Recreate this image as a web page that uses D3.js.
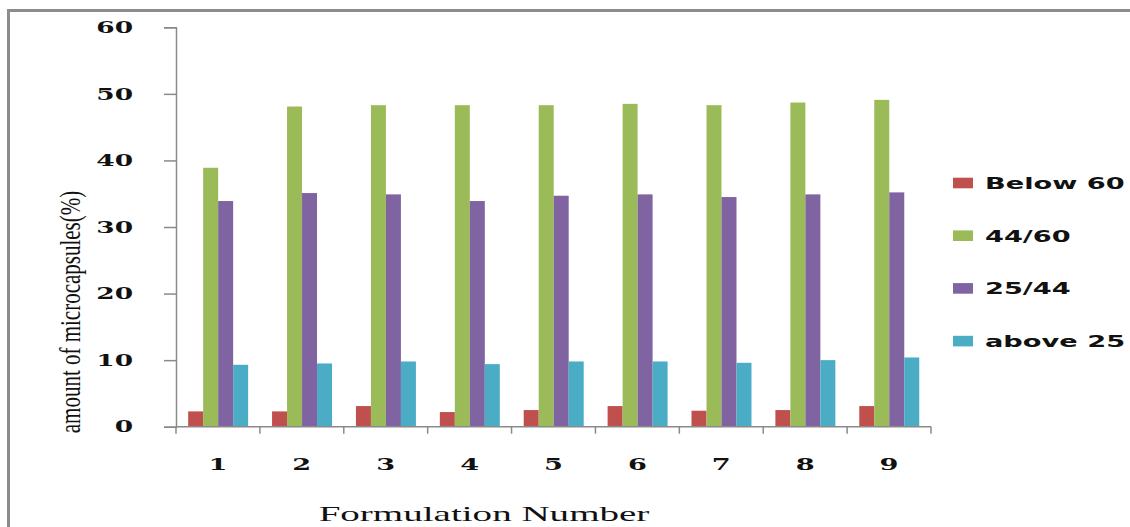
<!DOCTYPE html>
<html>
<head>
<meta charset="utf-8">
<script src="https://cdn.jsdelivr.net/npm/d3@7"></script>
<style>
  html, body { margin: 0; padding: 0; background: #fff; }
  svg { display: block; }
</style>
</head>
<body>
<svg id="chart" width="1130" height="527"></svg>
<script>
// Formulations on the x axis
const formulations = ["1", "2", "3", "4", "5", "6", "7", "8", "9"];
// Size fractions (legend order)
const seriesNames = ["Below 60", "44/60", "25/44", "above 25"];
const seriesColors = ["#C0504D", "#9BBB59", "#8064A2", "#4BACC6"];
// Amount of microcapsules (%) in each size fraction
const below60 = [2.3, 2.3, 3.1, 2.2, 2.5, 3.1, 2.4, 2.5, 3.1];
const frac4460 = [38.9, 48.1, 48.3, 48.3, 48.3, 48.5, 48.3, 48.7, 49.1];
const frac2544 = [33.9, 35.1, 34.9, 33.9, 34.7, 34.9, 34.5, 34.9, 35.2];
const above25 = [9.3, 9.5, 9.8, 9.4, 9.8, 9.8, 9.6, 10.0, 10.4];
const yTicks = [0, 10, 20, 30, 40, 50, 60];

const seriesValues = [below60, frac4460, frac2544, above25];

const svg = d3.select("#chart");

// chart-area frame
svg.append("rect")
  .attr("x", 8.5).attr("y", 10.5)
  .attr("width", 1140).attr("height", 540)
  .attr("fill", "none")
  .attr("stroke", "#8c8c8c")
  .attr("stroke-width", 3);

const plot = { left: 176, right: 931, top: 27.3, bottom: 426.7 };

const x0 = d3.scaleBand().domain(formulations).range([plot.left, plot.right]).padding(0);
const bw = x0.bandwidth();
const x1 = d3.scaleBand().domain(seriesNames).range([bw * 0.145, bw * 0.86]).padding(0);
const y = d3.scaleLinear().domain([0, 60]).range([plot.bottom, plot.top]);

const axisColor = "#8a8a8a";

// bars
const groups = svg.append("g").selectAll("g")
  .data(formulations)
  .join("g")
  .attr("transform", d => `translate(${x0(d)},0)`);

groups.selectAll("rect")
  .data((d, i) => seriesNames.map((s, k) => ({ s, v: seriesValues[k][i], c: seriesColors[k] })))
  .join("rect")
  .attr("x", d => x1(d.s))
  .attr("width", x1.bandwidth())
  .attr("y", d => y(d.v))
  .attr("height", d => y(0) - y(d.v))
  .attr("fill", d => d.c);

// y axis
const yAxis = d3.axisLeft(y).tickValues(yTicks).tickSize(12).tickFormat("");
const gy = svg.append("g").attr("transform", `translate(${plot.left},0)`).call(yAxis);
gy.select(".domain").attr("stroke", axisColor).attr("stroke-width", 1.5);
gy.selectAll(".tick line").attr("stroke", axisColor).attr("stroke-width", 1.5);

// x axis: ticks on category boundaries
const gx = svg.append("g").attr("transform", `translate(0,${plot.bottom})`);
gx.append("line")
  .attr("x1", plot.left).attr("x2", plot.right)
  .attr("stroke", axisColor).attr("stroke-width", 1.5);
const boundaries = formulations.map(f => x0(f)).concat([plot.right]);
gx.selectAll("line.tk")
  .data(boundaries)
  .join("line")
  .attr("class", "tk")
  .attr("x1", d => d).attr("x2", d => d)
  .attr("y1", 0).attr("y2", 7)
  .attr("stroke", axisColor).attr("stroke-width", 1.5);

// y tick labels (wide bold serif)
svg.append("g").selectAll("text")
  .data(yTicks)
  .join("text")
  .attr("transform", d => `translate(133,${y(d)}) scale(1.65,1)`)
  .attr("text-anchor", "end")
  .attr("dy", "0.36em")
  .attr("font-family", "DejaVu Serif")
  .attr("font-weight", "bold")
  .attr("font-size", 16)
  .attr("fill", "#111")
  .text(d => d);

// x tick labels
svg.append("g").selectAll("text")
  .data(formulations)
  .join("text")
  .attr("transform", d => `translate(${x0(d) + bw / 2},464) scale(1.6,1)`)
  .attr("text-anchor", "middle")
  .attr("dy", "0.36em")
  .attr("font-family", "DejaVu Serif")
  .attr("font-weight", "bold")
  .attr("font-size", 17)
  .attr("fill", "#111")
  .text(d => d);

// axis titles
svg.append("text")
  .attr("transform", "translate(484,521) scale(1.86,1)")
  .attr("text-anchor", "middle")
  .attr("font-family", "Liberation Serif")
  .attr("font-size", 21)
  .attr("fill", "#111")
  .text("Formulation Number");

svg.append("text")
  .attr("transform", "translate(80,312) rotate(-90) scale(1,1.45)")
  .attr("text-anchor", "middle")
  .attr("font-family", "Liberation Serif")
  .attr("font-size", 21)
  .attr("fill", "#111")
  .text("amount of microcapsules(%)");

// legend
const legend = svg.append("g").selectAll("g")
  .data(seriesNames)
  .join("g")
  .attr("transform", (d, i) => `translate(953,${183 + i * 52.7})`);
legend.append("rect")
  .attr("x", 0).attr("y", -5.3)
  .attr("width", 20).attr("height", 10.6)
  .attr("fill", (d, i) => seriesColors[i]);
legend.append("text")
  .attr("transform", "translate(32,0) scale(1.65,1)")
  .attr("dy", "0.36em")
  .attr("font-family", "DejaVu Sans")
  .attr("font-weight", "bold")
  .attr("font-size", 16.5)
  .attr("fill", "#111")
  .text(d => d);
</script>
</body>
</html>
